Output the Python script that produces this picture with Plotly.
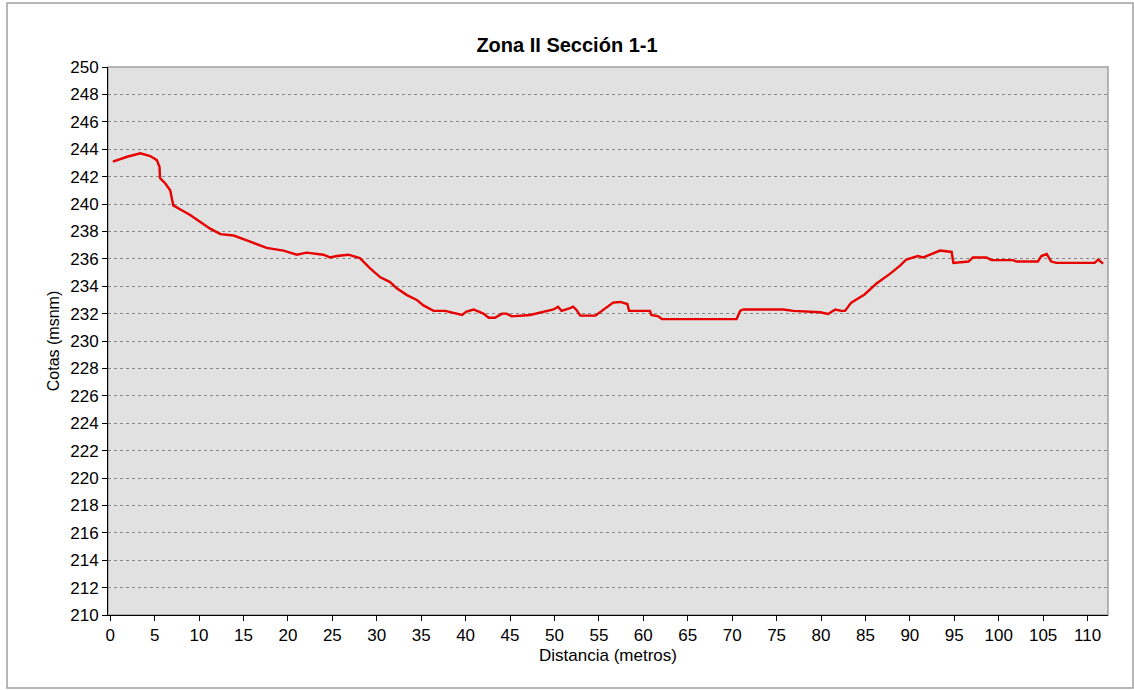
import plotly.graph_objects as go

distancia = [0.3, 1.9, 3.4, 4.5, 5.25, 5.55, 5.6, 6.2, 6.75, 7.1, 7.9, 9.0, 10.1, 11.25, 12.4, 13.9,
             15.75, 17.6, 19.5, 21.0, 22.1, 24.0, 24.75, 25.5, 26.8, 28.1, 29.25, 30.4, 31.5, 32.25,
             33.4, 34.5, 35.25, 36.4, 37.7, 39.0, 39.6, 40.1, 40.9, 42.0, 42.6, 43.3, 44.1, 44.6,
             45.2, 47.25, 48.75, 49.9, 50.4, 50.8, 51.75, 52.1, 52.5, 52.9, 54.6, 55.5, 56.6, 57.4,
             58.2, 58.4, 60.75, 60.9, 61.7, 62.1, 70.5, 70.9, 71.25, 75.75, 76.9, 79.9, 80.8, 81.6,
             82.3, 82.7, 83.4, 84.9, 86.25, 87.75, 88.9, 89.6, 90.9, 91.5, 92.4, 93.4, 94.7, 94.9,
             96.6, 97.1, 98.6, 99.2, 101.6, 102.0, 104.4, 104.8, 105.4, 105.9, 106.5, 110.8, 111.2,
             111.75]
cotas = [243.1, 243.45, 243.7, 243.5, 243.2, 242.7, 241.9, 241.5, 241.0, 239.9, 239.6, 239.2, 238.7,
         238.2, 237.8, 237.7, 237.25, 236.8, 236.6, 236.3, 236.45, 236.3, 236.1, 236.2, 236.3, 236.05,
         235.3, 234.65, 234.3, 233.85, 233.35, 233.0, 232.6, 232.2, 232.2, 232.0, 231.9, 232.15, 232.3,
         232.0, 231.7, 231.7, 232.0, 232.0, 231.8, 231.9, 232.15, 232.3, 232.5, 232.2, 232.4, 232.5,
         232.25, 231.85, 231.85, 232.25, 232.8, 232.85, 232.7, 232.2, 232.2, 231.9, 231.8, 231.6, 231.6,
         232.2, 232.3, 232.3, 232.2, 232.1, 231.97, 232.3, 232.2, 232.2, 232.8, 233.4, 234.2, 234.9,
         235.5, 235.95, 236.2, 236.1, 236.35, 236.6, 236.5, 235.7, 235.8, 236.1, 236.1, 235.9, 235.9,
         235.8, 235.8, 236.2, 236.35, 235.8, 235.7, 235.7, 235.95, 235.65]

x_ticks = list(range(0, 111, 5))
y_ticks = list(range(210, 251, 2))

fig = go.Figure()
fig.add_trace(go.Scatter(x=distancia, y=cotas, mode="lines",
                         line=dict(color="#e60000", width=2.4), showlegend=False))

font = "Liberation Sans, Arial, sans-serif"
fig.update_layout(
    width=1134, height=690,
    paper_bgcolor="white", plot_bgcolor="#e1e1e1",
    margin=dict(l=108, r=26, t=67, b=75),
    title=dict(text="<b>Zona II Sección 1-1</b>", x=0.5, xanchor="center", y=1 - 45 / 690,
               yanchor="middle", font=dict(family=font, size=20, color="black")),
    font=dict(family=font, color="black"),
    xaxis=dict(range=[-0.25, 112.3], tickvals=x_ticks, ticks="outside", ticklen=5,
               tickcolor="black", showline=True, linecolor="black", linewidth=1,
               showgrid=False, zeroline=False, tickfont=dict(size=17),
               title=dict(text="Distancia (metros)", font=dict(size=17), standoff=4)),
    yaxis=dict(range=[210, 250], tickvals=y_ticks, ticks="outside", ticklen=5,
               tickcolor="black", showline=True, linecolor="black", linewidth=1,
               showgrid=True, gridcolor="#888888", griddash="dot", gridwidth=1,
               zeroline=False, tickfont=dict(size=17),
               title=dict(text="Cotas (msnm)", font=dict(size=16), standoff=6)),
    shapes=[
        dict(type="rect", xref="paper", yref="paper", x0=0, x1=1, y0=0, y1=1,
             line=dict(color="#a0a0a0", width=1.5), layer="below"),
        dict(type="rect", xref="paper", yref="paper", x0=-0.101, x1=1.025, y0=-0.1332, y1=1.1168,
             line=dict(color="#a0a0a0", width=1.5)),
    ],
)

fig.write_html("out.html", config={"displayModeBar": False},
               post_script="document.body.style.margin='0';")
